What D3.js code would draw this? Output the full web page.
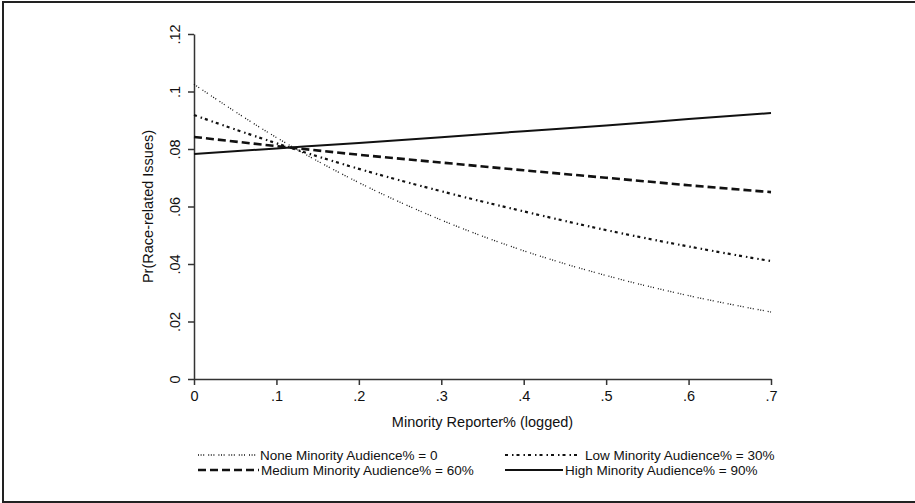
<!DOCTYPE html>
<html>
<head>
<meta charset="utf-8">
<script src="https://cdn.jsdelivr.net/npm/d3@7"></script>
<style>
  body { margin: 0; background: #fff; }
  svg { display: block; font-family: "Liberation Sans", Arial, sans-serif; }
</style>
</head>
<body>
<svg id="chart" width="915" height="503"></svg>
<script>
// x values (logged minority reporter share)
const xValues = [0, 0.1, 0.2, 0.3, 0.4, 0.5, 0.6, 0.7]
// predicted probabilities
const noneValues   = [0.1025, 0.0840, 0.0683, 0.0553, 0.0446, 0.0360, 0.0290, 0.0233]
const lowValues    = [0.0918, 0.0820, 0.0731, 0.0653, 0.0583, 0.0518, 0.0461, 0.0410]
const mediumValues = [0.0842, 0.0810, 0.0780, 0.0753, 0.0726, 0.0700, 0.0674, 0.0650]
const highValues   = [0.0783, 0.0802, 0.0821, 0.0841, 0.0862, 0.0882, 0.0904, 0.0925]

const xTicks = [0, 0.1, 0.2, 0.3, 0.4, 0.5, 0.6, 0.7]
const yTicks = [0, 0.02, 0.04, 0.06, 0.08, 0.1, 0.12]
const seriesNames = [
  "None Minority Audience% = 0",
  "Low Minority Audience% = 30%",
  "Medium Minority Audience% = 60%",
  "High Minority Audience% = 90%"
]

const styles = [
  {dash: "1,1.6,1,1.6,1,4", width: 1.3},
  {dash: "3,4,1.5,3", width: 2.2},
  {dash: "8,4", width: 2.6},
  {dash: null, width: 2}
]
const seriesValues = [noneValues, lowValues, mediumValues, highValues]

const svg = d3.select("#chart")
const ink = "#111"

// outer frame (right edge is cropped in the reference)
svg.append("rect")
  .attr("x", 3).attr("y", 2)
  .attr("width", 940).attr("height", 500)
  .attr("fill", "none")
  .attr("stroke", "#222")
  .attr("stroke-width", 2)

const x = d3.scaleLinear().domain([0, 0.7]).range([194, 771])
const y = d3.scaleLinear().domain([0, 0.12]).range([379, 34])

const fmt = d => d === 0 ? "0" : d3.format("~f")(d).replace(/^0/, "")

const xAxis = svg.append("g")
  .attr("transform", `translate(0,${y(0)})`)
  .call(d3.axisBottom(x).tickValues(xTicks).tickFormat(fmt).tickSize(6).tickSizeOuter(0))
xAxis.selectAll("text")
  .attr("y", 12).attr("dy", "0.71em")
  .attr("font-size", 14.5)
  .attr("fill", ink)
  .attr("font-family", "Liberation Sans, Arial, sans-serif")

const yAxis = svg.append("g")
  .attr("transform", `translate(${x(0)},0)`)
  .call(d3.axisLeft(y).tickValues(yTicks).tickFormat(fmt).tickSize(6).tickSizeOuter(0))
yAxis.selectAll("text")
  .attr("transform", "rotate(-90)")
  .attr("x", 0).attr("y", -14).attr("dy", 0)
  .attr("text-anchor", "middle")
  .attr("font-size", 14.5)
  .attr("fill", ink)
  .attr("font-family", "Liberation Sans, Arial, sans-serif")

svg.selectAll(".domain, .tick line")
  .attr("stroke", "#333")
  .attr("stroke-width", 1.5)

svg.append("text")
  .attr("x", (x(0) + x(0.7)) / 2)
  .attr("y", 427)
  .attr("text-anchor", "middle")
  .attr("font-size", 14.5)
  .attr("fill", ink)
  .text("Minority Reporter% (logged)")

svg.append("text")
  .attr("transform", `translate(153,${(y(0) + y(0.12)) / 2}) rotate(-90)`)
  .attr("text-anchor", "middle")
  .attr("font-size", 14.5)
  .attr("fill", ink)
  .text("Pr(Race-related Issues)")

const line = d3.line()
  .x((d, i) => x(xValues[i]))
  .y(d => y(d))
  .curve(d3.curveMonotoneX)

seriesValues.forEach((vals, k) => {
  svg.append("path")
    .datum(vals)
    .attr("fill", "none")
    .attr("stroke", ink)
    .attr("stroke-width", styles[k].width)
    .attr("stroke-dasharray", styles[k].dash)
    .attr("d", line)
})

// legend, two columns by two rows
const legendPos = [
  {sx: 198, ex: 258, tx: 260, y: 455},
  {sx: 505, ex: 580, tx: 585, y: 455},
  {sx: 198, ex: 259, tx: 261, y: 470},
  {sx: 505, ex: 563, tx: 565, y: 470}
]
seriesNames.forEach((name, k) => {
  const p = legendPos[k]
  svg.append("line")
    .attr("x1", p.sx).attr("x2", p.ex)
    .attr("y1", p.y).attr("y2", p.y)
    .attr("stroke", ink)
    .attr("stroke-width", styles[k].width)
    .attr("stroke-dasharray", styles[k].dash)
  svg.append("text")
    .attr("x", p.tx).attr("y", p.y)
    .attr("dy", "0.35em")
    .attr("font-size", 13.5)
    .attr("fill", ink)
    .text(name)
})
</script>
</body>
</html>
